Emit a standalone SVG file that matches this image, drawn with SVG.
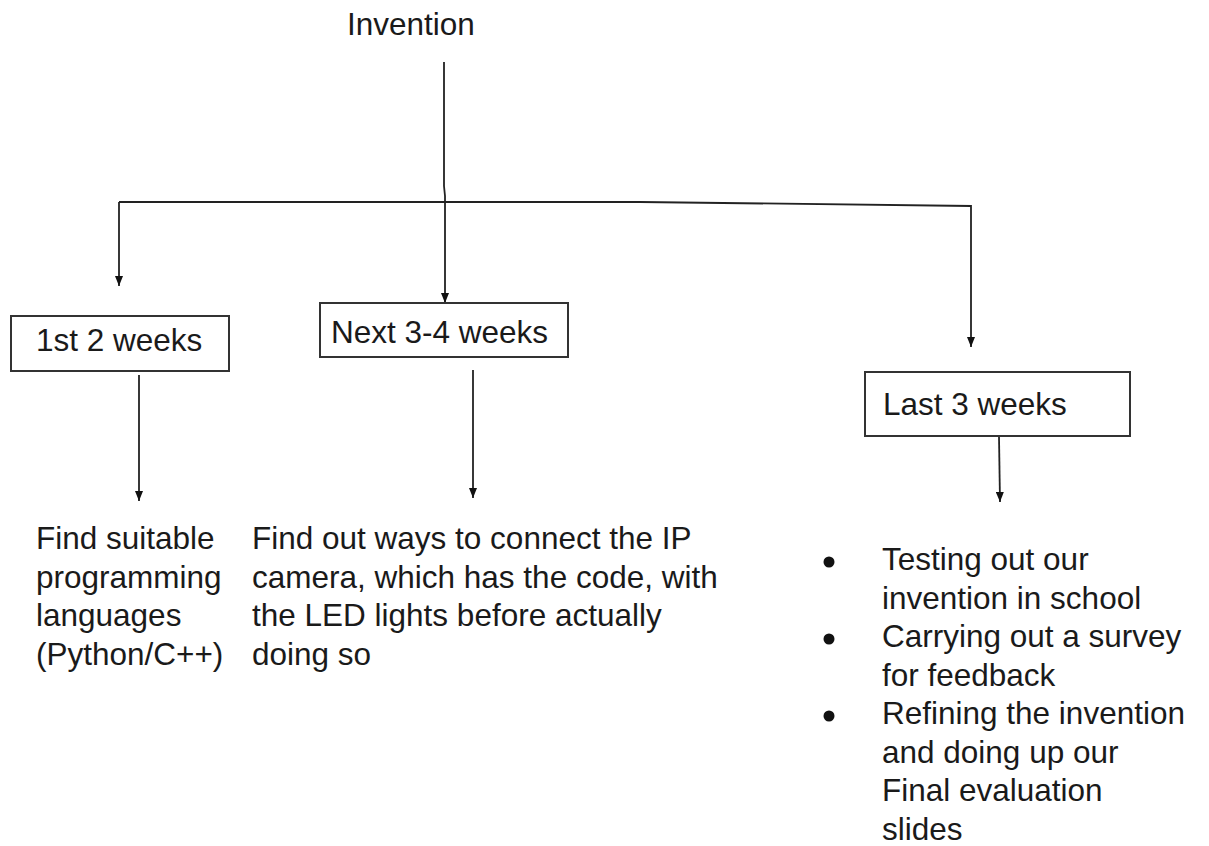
<svg xmlns="http://www.w3.org/2000/svg" width="1209" height="846" viewBox="0 0 1209 846">
<style>
text{font-family:"Liberation Sans",Arial,sans-serif;font-size:31.5px;fill:#1a1a1a}
.box{fill:#fff;stroke:#333;stroke-width:2}
.c{fill:none;stroke:#222;stroke-width:1.8}
</style>
<defs>
<marker id="ah" viewBox="0 0 10 8" refX="10" refY="4" markerWidth="10" markerHeight="8" markerUnits="userSpaceOnUse" orient="auto">
<path d="M0,0 L10,4 L0,8 z" fill="#111"/>
</marker>
</defs>
<rect width="1209" height="846" fill="#fff"/>
<g id="connectors">
<path class="c" d="M444,62 L444,186 L445,196 L445,303" marker-end="url(#ah)"/>
<path class="c" d="M119,202 L640,202 L971,206 L971,347" marker-end="url(#ah)"/>
<path class="c" d="M119,202 L119,286" marker-end="url(#ah)"/>
<path class="c" d="M139,375 L139,501" marker-end="url(#ah)"/>
<path class="c" d="M473,370 L473,498" marker-end="url(#ah)"/>
<path class="c" d="M999,437 L1000,502" marker-end="url(#ah)"/>
</g>
<g id="invention">
<text x="347" y="35">Invention</text>
</g>
<g id="week1">
<rect class="box" x="11" y="316" width="218" height="55"/>
<text x="36" y="351">1st 2 weeks</text>
</g>
<g id="week2">
<rect class="box" x="320" y="303" width="248" height="54"/>
<text x="331" y="343">Next 3-4 weeks</text>
</g>
<g id="week3">
<rect class="box" x="865" y="372" width="265" height="64"/>
<text x="883" y="415">Last 3 weeks</text>
</g>
<g id="task1">
<text x="36" y="549">Find suitable</text>
<text x="36" y="588">programming</text>
<text x="36" y="626">languages</text>
<text x="36" y="665">(Python/C++)</text>
</g>
<g id="task2">
<text x="252" y="549">Find out ways to connect the IP</text>
<text x="252" y="588">camera, which has the code, with</text>
<text x="252" y="626">the LED lights before actually</text>
<text x="252" y="665">doing so</text>
</g>
<g id="task3">
<circle cx="829" cy="562" r="5.5" fill="#111"/>
<circle cx="829" cy="639" r="5.5" fill="#111"/>
<circle cx="829" cy="716" r="5.5" fill="#111"/>
<text x="882" y="570">Testing out our</text>
<text x="882" y="608.5">invention in school</text>
<text x="882" y="647">Carrying out a survey</text>
<text x="882" y="685.5">for feedback</text>
<text x="882" y="724">Refining the invention</text>
<text x="882" y="762.5">and doing up our</text>
<text x="882" y="801">Final evaluation</text>
<text x="882" y="839.5">slides</text>
</g>
</svg>
